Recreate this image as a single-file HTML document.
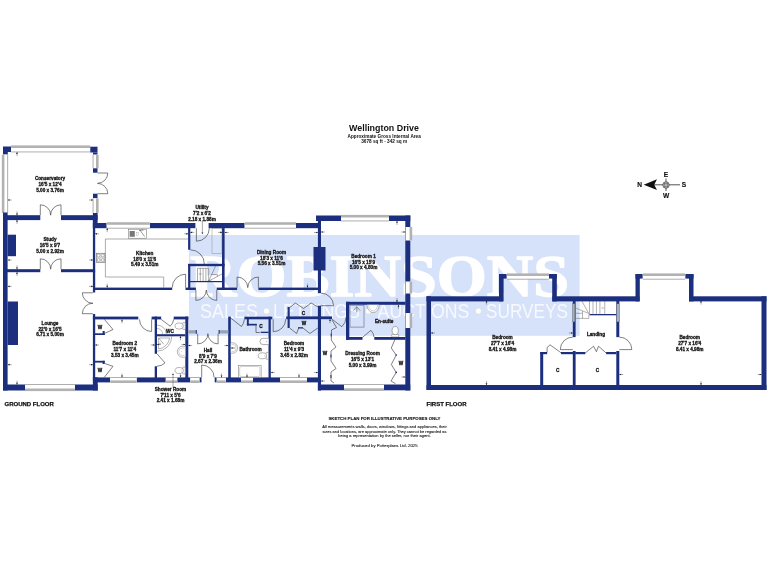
<!DOCTYPE html>
<html><head><meta charset="utf-8"><title>Wellington Drive</title>
<style>html,body{margin:0;padding:0;background:#fff;}body{width:768px;height:576px;overflow:hidden;}svg{display:block;will-change:transform;font-family:"Liberation Sans",sans-serif;}</style>
</head><body>
<svg width="768" height="576" viewBox="0 0 768 576">
<rect width="768" height="576" fill="#fff"/>
<rect x="189" y="235" width="390.6" height="100.8" fill="#d6e1fa"/>
<text x="190" y="295.7" font-family="Liberation Serif, serif" font-weight="bold" font-size="59.6" fill="#fff" stroke="#fff" stroke-width="1.4" stroke-linejoin="round" textLength="379" lengthAdjust="spacingAndGlyphs">ROBINSONS</text>
<text x="200.1" y="317.8" font-size="19.6" fill="#f7f9ff" textLength="57.8" lengthAdjust="spacingAndGlyphs">SALES</text>
<text x="273.1" y="317.8" font-size="19.6" fill="#f7f9ff" textLength="86.8" lengthAdjust="spacingAndGlyphs">LETTINGS</text>
<text x="377.6" y="317.8" font-size="19.6" fill="#f7f9ff" textLength="91.8" lengthAdjust="spacingAndGlyphs">AUCTIONS</text>
<text x="486.1" y="317.8" font-size="19.6" fill="#f7f9ff" textLength="81.8" lengthAdjust="spacingAndGlyphs">SURVEYS</text>
<circle cx="266.5" cy="311" r="2.6" fill="#fffff2"/>
<circle cx="368.5" cy="311" r="2.6" fill="#fffff2"/>
<circle cx="478.4" cy="311" r="2.6" fill="#fffff2"/>
<rect x="3" y="146.5" width="8" height="5.5" fill="#1c2f7e"/>
<rect x="3" y="152" width="4.8" height="2.6" fill="#1c2f7e"/>
<rect x="11" y="146" width="79.3" height="6" fill="#fff"/>
<rect x="11" y="145.4" width="79.3" height="2.6" fill="#b2b2b2"/>
<rect x="11" y="151.6" width="79.3" height="0.7" fill="#8c8c8c"/>
<rect x="90.3" y="146.7" width="7.2" height="5.8" fill="#1c2f7e"/>
<rect x="93" y="152.5" width="4.5" height="2.2" fill="#1c2f7e"/>
<rect x="2.4" y="154.6" width="5.4" height="58.4" fill="#fff"/>
<rect x="1.8" y="154.6" width="2.6" height="58.4" fill="#b2b2b2"/>
<rect x="7.4" y="154.6" width="0.7" height="58.4" fill="#8c8c8c"/>
<rect x="93" y="154.7" width="5" height="13.6" fill="#fff"/>
<rect x="96.0" y="154.7" width="2.6" height="13.6" fill="#b2b2b2"/>
<rect x="92.7" y="154.7" width="0.7" height="13.6" fill="#8c8c8c"/>
<rect x="93" y="168.3" width="4.5" height="4.4" fill="#1c2f7e"/>
<rect x="93" y="193.7" width="4.5" height="4.6" fill="#1c2f7e"/>
<rect x="93" y="198.3" width="5" height="14.7" fill="#fff"/>
<rect x="96.0" y="198.3" width="2.6" height="14.7" fill="#b2b2b2"/>
<rect x="92.7" y="198.3" width="0.7" height="14.7" fill="#8c8c8c"/>
<path d="M97.5 173 L107.8 173 A10.3 10.3 0 0 1 97.5 183.3" stroke="#2e2e2e" stroke-width="0.6" fill="none" />
<path d="M97.5 193.7 L107.8 193.7 A10.3 10.3 0 0 0 97.5 183.4" stroke="#2e2e2e" stroke-width="0.6" fill="none" />
<rect x="3" y="215.2" width="37.3" height="4.9" fill="#1c2f7e"/>
<rect x="61" y="215.2" width="36.6" height="4.9" fill="#1c2f7e"/>
<rect x="92.9" y="213" width="4.7" height="15" fill="#1c2f7e"/>
<path d="M40.3 215.2 L40.3 204.8 A10.4 10.4 0 0 1 50.7 215.2" stroke="#2e2e2e" stroke-width="0.6" fill="none" />
<path d="M61 215.2 L61 204.8 A10.4 10.4 0 0 0 50.6 215.2" stroke="#2e2e2e" stroke-width="0.6" fill="none" />
<rect x="3" y="212.5" width="4.6" height="178.0" fill="#1c2f7e"/>
<rect x="7.6" y="234.7" width="8.4" height="21.5" fill="#1c2f7e"/>
<rect x="3" y="269.2" width="37.3" height="3.0" fill="#1c2f7e"/>
<rect x="61" y="269.2" width="34.1" height="3.0" fill="#1c2f7e"/>
<path d="M40.3 269.2 L40.3 258.8 A10.4 10.4 0 0 1 50.7 269.2" stroke="#2e2e2e" stroke-width="0.6" fill="none" />
<path d="M61 269.2 L61 258.8 A10.4 10.4 0 0 0 50.6 269.2" stroke="#2e2e2e" stroke-width="0.6" fill="none" />
<rect x="92.9" y="220" width="2.3" height="72.5" fill="#1c2f7e"/>
<rect x="92.9" y="314" width="2.3" height="64" fill="#1c2f7e"/>
<rect x="92.9" y="377.4" width="4.8" height="13.1" fill="#1c2f7e"/>
<path d="M92.9 292.8 L82.3 292.8 A10.6 10.6 0 0 0 92.9 303.3" stroke="#2e2e2e" stroke-width="0.6" fill="none" />
<path d="M92.9 313.7 L82.3 313.7 A10.6 10.6 0 0 1 92.9 303.2" stroke="#2e2e2e" stroke-width="0.6" fill="none" />
<rect x="7.6" y="301.5" width="10.4" height="43.5" fill="#1c2f7e"/>
<rect x="3" y="384.5" width="22" height="6.0" fill="#1c2f7e"/>
<rect x="75" y="384.5" width="22.7" height="6.0" fill="#1c2f7e"/>
<rect x="25" y="384.5" width="50" height="6.0" fill="#fff"/>
<rect x="25" y="388.5" width="50" height="2.6" fill="#b2b2b2"/>
<rect x="25" y="384.2" width="50" height="0.7" fill="#8c8c8c"/>
<rect x="92.9" y="223" width="13.8" height="5.2" fill="#1c2f7e"/>
<rect x="149.8" y="223" width="45.6" height="5.2" fill="#1c2f7e"/>
<rect x="208.6" y="223" width="36.1" height="5.2" fill="#1c2f7e"/>
<rect x="296" y="223" width="25" height="5.2" fill="#1c2f7e"/>
<rect x="106.7" y="222.8" width="43.1" height="5.4" fill="#fff"/>
<rect x="106.7" y="222.2" width="43.1" height="2.6" fill="#b2b2b2"/>
<rect x="106.7" y="227.8" width="43.1" height="0.7" fill="#8c8c8c"/>
<rect x="244.7" y="222.8" width="51.3" height="5.4" fill="#fff"/>
<rect x="244.7" y="222.2" width="51.3" height="2.6" fill="#b2b2b2"/>
<rect x="244.7" y="227.8" width="51.3" height="0.7" fill="#8c8c8c"/>
<rect x="95" y="287.6" width="77.2" height="2.4" fill="#1c2f7e"/>
<rect x="185.5" y="287.6" width="10.4" height="2.4" fill="#1c2f7e"/>
<rect x="216.75" y="287.6" width="20.35" height="2.4" fill="#1c2f7e"/>
<rect x="258.4" y="287.6" width="62.6" height="2.4" fill="#1c2f7e"/>
<rect x="188.1" y="228" width="2.2" height="21.75" fill="#1c2f7e"/>
<rect x="188.1" y="264" width="2.2" height="26" fill="#1c2f7e"/>
<rect x="222" y="228" width="2.6" height="62" fill="#1c2f7e"/>
<rect x="188.1" y="263.8" width="36.5" height="2.4" fill="#1c2f7e"/>
<rect x="190" y="281" width="32" height="1.2" fill="#1c2f7e"/>
<rect x="317.9" y="216" width="3.1" height="77.2" fill="#1c2f7e"/>
<rect x="317.9" y="305.7" width="3.1" height="14.3" fill="#1c2f7e"/>
<rect x="313.5" y="247" width="12.0" height="23.5" fill="#1c2f7e"/>
<rect x="316" y="215.5" width="25" height="5.5" fill="#1c2f7e"/>
<rect x="389" y="215.5" width="21.3" height="5.5" fill="#1c2f7e"/>
<rect x="341" y="215.5" width="48" height="5.5" fill="#fff"/>
<rect x="341" y="214.9" width="48" height="2.6" fill="#b2b2b2"/>
<rect x="341" y="220.6" width="48" height="0.7" fill="#8c8c8c"/>
<rect x="405.3" y="215.5" width="5.0" height="175.0" fill="#1c2f7e"/>
<rect x="405.3" y="227" width="6.3" height="13.5" fill="#fff"/>
<rect x="409.6" y="227" width="2.6" height="13.5" fill="#b2b2b2"/>
<rect x="405.0" y="227" width="0.7" height="13.5" fill="#8c8c8c"/>
<rect x="405.3" y="281.5" width="6.3" height="12.0" fill="#fff"/>
<rect x="409.6" y="281.5" width="2.6" height="12.0" fill="#b2b2b2"/>
<rect x="405.0" y="281.5" width="0.7" height="12.0" fill="#8c8c8c"/>
<rect x="405.3" y="313" width="6.3" height="15" fill="#fff"/>
<rect x="409.6" y="313" width="2.6" height="15" fill="#b2b2b2"/>
<rect x="405.0" y="313" width="0.7" height="15" fill="#8c8c8c"/>
<rect x="346" y="301.8" width="59.5" height="3.0" fill="#1c2f7e"/>
<rect x="346" y="301.8" width="3.3" height="38.0" fill="#1c2f7e"/>
<rect x="346" y="337" width="16.5" height="2.8" fill="#1c2f7e"/>
<rect x="374.3" y="337" width="31.2" height="2.8" fill="#1c2f7e"/>
<rect x="317.9" y="316.4" width="3.1" height="74.1" fill="#1c2f7e"/>
<rect x="317.9" y="384.5" width="26.1" height="5.8" fill="#1c2f7e"/>
<rect x="384" y="384.5" width="26.3" height="5.8" fill="#1c2f7e"/>
<rect x="344" y="384.5" width="40" height="5.8" fill="#fff"/>
<rect x="344" y="388.3" width="40" height="2.6" fill="#b2b2b2"/>
<rect x="344" y="384.2" width="40" height="0.7" fill="#8c8c8c"/>
<rect x="92.9" y="316.6" width="45.4" height="2.8" fill="#1c2f7e"/>
<rect x="151.6" y="316.6" width="9.6" height="2.8" fill="#1c2f7e"/>
<rect x="173.7" y="316.6" width="14.6" height="2.8" fill="#1c2f7e"/>
<rect x="154.7" y="316.6" width="2.3" height="37.2" fill="#1c2f7e"/>
<rect x="154.7" y="366.3" width="2.3" height="11.7" fill="#1c2f7e"/>
<rect x="185.3" y="316.6" width="3.0" height="61.4" fill="#1c2f7e"/>
<rect x="157" y="334.2" width="28.3" height="2.1" fill="#1c2f7e"/>
<rect x="228.2" y="316.6" width="2.6" height="61.4" fill="#1c2f7e"/>
<rect x="244.4" y="316.7" width="27.9" height="2.6" fill="#1c2f7e"/>
<rect x="268.5" y="316.7" width="2.3" height="61.3" fill="#1c2f7e"/>
<rect x="286.2" y="316.4" width="45.8" height="2.8" fill="#1c2f7e"/>
<rect x="246.9" y="319" width="1.9" height="6.5" fill="#1c2f7e"/>
<rect x="246.9" y="323.8" width="10.0" height="1.7" fill="#1c2f7e"/>
<rect x="260.7" y="331.7" width="7.9" height="1.3" fill="#1c2f7e"/>
<path d="M256 325.5 L256 332.5 L259.8 332.5" stroke="#2e2e2e" stroke-width="0.6" fill="none" />
<rect x="287.6" y="307" width="2.1" height="21" fill="#1c2f7e"/>
<rect x="298" y="327.2" width="5" height="1.3" fill="#1c2f7e"/>
<path d="M289.7 307.6 L295.3 303 L303.6 308.5 L311.2 303 L317.9 307" stroke="#2e2e2e" stroke-width="0.6" fill="none" />
<path d="M289.7 328 L296.6 333.5 L298.7 328 M303 328 L309.8 333.5 L317.9 328" stroke="#2e2e2e" stroke-width="0.6" fill="none" />
<rect x="92.9" y="377.4" width="17.3" height="5.0" fill="#1c2f7e"/>
<rect x="136.6" y="377.4" width="29.2" height="5.0" fill="#1c2f7e"/>
<rect x="177.2" y="377.4" width="13.2" height="5.0" fill="#1c2f7e"/>
<rect x="199.4" y="377.4" width="2.1" height="5.0" fill="#1c2f7e"/>
<rect x="214.7" y="377.4" width="2.05" height="5.0" fill="#1c2f7e"/>
<rect x="225.8" y="377.4" width="15.2" height="5.0" fill="#1c2f7e"/>
<rect x="253" y="377.4" width="27" height="5.0" fill="#1c2f7e"/>
<rect x="307" y="377.4" width="14" height="5.0" fill="#1c2f7e"/>
<rect x="110.2" y="377.4" width="26.4" height="5.0" fill="#fff"/>
<rect x="110.2" y="380.4" width="26.4" height="2.6" fill="#b2b2b2"/>
<rect x="110.2" y="377.1" width="26.4" height="0.7" fill="#8c8c8c"/>
<rect x="165.8" y="377.4" width="11.4" height="5.0" fill="#fff"/>
<rect x="165.8" y="380.4" width="11.4" height="2.6" fill="#b2b2b2"/>
<rect x="165.8" y="377.1" width="11.4" height="0.7" fill="#8c8c8c"/>
<rect x="190.4" y="377.4" width="9.0" height="5.0" fill="#fff"/>
<rect x="190.4" y="380.4" width="9.0" height="2.6" fill="#b2b2b2"/>
<rect x="190.4" y="377.1" width="9.0" height="0.7" fill="#8c8c8c"/>
<rect x="216.75" y="377.4" width="9.05" height="5.0" fill="#fff"/>
<rect x="216.75" y="380.4" width="9.05" height="2.6" fill="#b2b2b2"/>
<rect x="216.75" y="377.1" width="9.05" height="0.7" fill="#8c8c8c"/>
<rect x="241" y="377.4" width="12" height="5.0" fill="#fff"/>
<rect x="241" y="380.4" width="12" height="2.6" fill="#b2b2b2"/>
<rect x="241" y="377.1" width="12" height="0.7" fill="#8c8c8c"/>
<rect x="280" y="377.4" width="27" height="5.0" fill="#fff"/>
<rect x="280" y="380.4" width="27" height="2.6" fill="#b2b2b2"/>
<rect x="280" y="377.1" width="27" height="0.7" fill="#8c8c8c"/>
<rect x="188.3" y="330.2" width="8.3" height="3.3" fill="#9aa3b5"/><rect x="218.8" y="330.2" width="9.5" height="3.3" fill="#9aa3b5"/>
<rect x="195.8" y="330" width="1" height="3.8" fill="#1c2f7e"/><rect x="218.6" y="330" width="1" height="3.8" fill="#1c2f7e"/>
<path d="M197.7 333.7 L197.7 343.9 A10.2 10.2 0 0 0 207.9 333.7" stroke="#2e2e2e" stroke-width="0.6" fill="none" />
<path d="M218.1 333.7 L218.1 343.9 A10.2 10.2 0 0 1 207.9 333.7" stroke="#2e2e2e" stroke-width="0.6" fill="none" />
<path d="M201.7 377.4 L201.7 365 A12.4 12.4 0 0 1 214.1 377.4" stroke="#2e2e2e" stroke-width="0.6" fill="none" />
<path d="M185.6 287.6 L185.6 274.2 A13.4 13.4 0 0 0 172.2 287.6" stroke="#2e2e2e" stroke-width="0.6" fill="none" />
<path d="M190.3 249.8 A14 14 0 0 1 204.3 264" stroke="#2e2e2e" stroke-width="0.6" fill="none" />
<path d="M196.4 228.3 L196.4 241.2 A12.9 12.9 0 0 0 209.3 228.3" stroke="#2e2e2e" stroke-width="0.6" fill="none" />
<path d="M195.9 290 L195.9 300.4 A10.4 10.4 0 0 0 206.3 290" stroke="#2e2e2e" stroke-width="0.6" fill="none" />
<path d="M216.75 290 L216.75 300.4 A10.4 10.4 0 0 1 206.35 290" stroke="#2e2e2e" stroke-width="0.6" fill="none" />
<path d="M237.1 287.6 L237.1 277 A10.6 10.6 0 0 1 247.7 287.6" stroke="#2e2e2e" stroke-width="0.6" fill="none" />
<path d="M258.4 287.6 L258.4 277 A10.6 10.6 0 0 0 247.8 287.6" stroke="#2e2e2e" stroke-width="0.6" fill="none" />
<path d="M321 305.7 L333.5 305.7 A12.5 12.5 0 0 0 321 293.2" stroke="#2e2e2e" stroke-width="0.6" fill="none" />
<path d="M151.6 319.4 L151.6 331.5 A12.1 12.1 0 0 1 139.5 319.4" stroke="#2e2e2e" stroke-width="0.6" fill="none" />
<path d="M161.2 319.4 L170.2 326.2 A11.28 11.28 0 0 0 173.7 319.4" stroke="#2e2e2e" stroke-width="0.6" fill="none" />
<path d="M157 353.8 L165 362.9 A12.12 12.12 0 0 1 157 366.3" stroke="#2e2e2e" stroke-width="0.6" fill="none" />
<path d="M230.6 318 L241.5 326.5 A13.82 13.82 0 0 0 244.4 319.3" stroke="#2e2e2e" stroke-width="0.6" fill="none" />
<path d="M273.2 319.2 L273.2 331.7 A12.5 12.5 0 0 0 285.7 319.2" stroke="#2e2e2e" stroke-width="0.6" fill="none" />
<path d="M332 319.2 L341.8 326.7 A12.34 12.34 0 0 0 346 317.5" stroke="#2e2e2e" stroke-width="0.6" fill="none" />
<path d="M362.5 337.4 L370.9 330.3 A11.0 11.0 0 0 1 374 337" stroke="#2e2e2e" stroke-width="0.6" fill="none" />
<rect x="95" y="333.3" width="9.7" height="1.7" fill="#1c2f7e"/>
<rect x="102.6" y="331" width="2.1" height="4" fill="#1c2f7e"/>
<path d="M104.4 319.4 L113 329.5 L104.7 333.3" stroke="#2e2e2e" stroke-width="0.6" fill="none" />
<rect x="95" y="360.8" width="9.7" height="1.8" fill="#1c2f7e"/>
<rect x="102.6" y="360.8" width="2.1" height="3.2" fill="#1c2f7e"/>
<path d="M104.7 363.5 L113 366.3 L104.4 377.2" stroke="#2e2e2e" stroke-width="0.6" fill="none" />
<path d="M332 320 L336.5 327.5 L331.5 330 L331.3 340 L336 347 L331 351 L331 361 L336 368.5 L331 372 L331 381 L334 383" stroke="#2e2e2e" stroke-width="0.6" fill="none" />
<path d="M395 339.4 L391.3 348 L396.2 355 L391.3 364.5 L396.2 372.4 L391 381 L395.5 383.7" stroke="#2e2e2e" stroke-width="0.6" fill="none" />
<rect x="330.7" y="333.5" width="1" height="3" fill="#1c2f7e"/>
<rect x="330.5" y="354.5" width="1" height="3" fill="#1c2f7e"/>
<rect x="330.5" y="375.0" width="1" height="3" fill="#1c2f7e"/>
<circle cx="396.2" cy="355" r="0.8" fill="#1c2f7e"/>
<circle cx="396.2" cy="372.4" r="0.8" fill="#1c2f7e"/>
<path d="M188.1 239 L105.4 239 L105.4 277 L163.7 277 L163.7 287.6" stroke="#5a5a5a" stroke-width="0.5" fill="none" />
<rect x="128.4" y="229.2" width="18" height="9" fill="#fff" stroke="#666" stroke-width="0.5"/>
<rect x="129.6" y="231" width="5.2" height="5.8" fill="#777"/>
<rect x="136.4" y="232.8" width="2.2" height="2.4" fill="#fff" stroke="#888" stroke-width="0.3"/>
<path d="M140 230.2 L144.5 236.5 M139 230.4 L143.5 230 " stroke="#2e2e2e" stroke-width="0.5" fill="none" />
<rect x="96.3" y="253.2" width="8.7" height="9.3" fill="#ddd" stroke="#5a5a5a" stroke-width="0.5"/>
<circle cx="98.6" cy="255.6" r="1.4" fill="#fff" stroke="#5a5a5a" stroke-width="0.35"/>
<circle cx="102.7" cy="255.6" r="1.4" fill="#fff" stroke="#5a5a5a" stroke-width="0.35"/>
<circle cx="98.6" cy="260" r="1.4" fill="#fff" stroke="#5a5a5a" stroke-width="0.35"/>
<circle cx="102.7" cy="260" r="1.4" fill="#fff" stroke="#5a5a5a" stroke-width="0.35"/>
<rect x="212" y="228.4" width="9.9" height="25" fill="none" stroke="#888" stroke-width="0.45"/>
<path d="M202.4 220.5 L202.4 233" stroke="#2e2e2e" stroke-width="0.4" fill="none" />
<path d="M202.4 234.3 l-0.9 -1.8 l1.8 0 z" fill="#222"/>
<path d="M197.5 268.3 L197.5 281" stroke="#444" stroke-width="0.45" fill="none" />
<path d="M200.3 268.3 L200.3 281" stroke="#444" stroke-width="0.45" fill="none" />
<path d="M203.1 268.3 L203.1 281" stroke="#444" stroke-width="0.45" fill="none" />
<path d="M205.9 268.3 L205.9 281" stroke="#444" stroke-width="0.45" fill="none" />
<path d="M208.7 268.3 L208.7 281" stroke="#444" stroke-width="0.45" fill="none" />
<path d="M197.5 268.3 L208.7 268.3 M208.7 281 L222 274 M208.7 281 L215.5 266.2 M211.5 274.6 L217.4 274.6 L217.4 276.4" stroke="#444" stroke-width="0.45" fill="none" />
<path d="M199 274 L201.5 274" stroke="#2e2e2e" stroke-width="0.4" fill="none" />
<rect x="182.70000000000002" y="322.6" width="2.6" height="6.8" rx="0.6" fill="#fff" stroke="#5a5a5a" stroke-width="0.45"/>
<ellipse cx="179.10000000000002" cy="326" rx="4.1" ry="3" fill="#fff" stroke="#5a5a5a" stroke-width="0.45"/>
<circle cx="181.3" cy="326" r="0.35" fill="#555"/>
<rect x="182.70000000000002" y="367.1" width="2.6" height="6.8" rx="0.6" fill="#fff" stroke="#5a5a5a" stroke-width="0.45"/>
<ellipse cx="179.10000000000002" cy="370.5" rx="4.1" ry="3" fill="#fff" stroke="#5a5a5a" stroke-width="0.45"/>
<circle cx="181.3" cy="370.5" r="0.35" fill="#555"/>
<path d="M157 325 A9.2 9.2 0 0 1 166.2 334.2" stroke="#5a5a5a" stroke-width="0.45" fill="none" />
<path d="M157 328.5 A5.7 5.7 0 0 1 162.7 334.2" stroke="#5a5a5a" stroke-width="0.4" fill="none" />
<path d="M171.8 336.3 A14.8 14.8 0 0 1 157 351.2 M169.6 338 A12.6 12.6 0 0 1 158.6 349 M158.6 338 L169.6 338 M158.6 338 L158.6 349 M158.6 338 L164 344.4" stroke="#5a5a5a" stroke-width="0.45" fill="none" />
<circle cx="160" cy="343.6" r="0.8" fill="none" stroke="#5a5a5a" stroke-width="0.3"/>
<path d="M185.3 346.25 L182.3 346.25 A5 5.5 0 0 0 182.3 357.25 L185.3 357.25" stroke="#5a5a5a" stroke-width="0.45" fill="#fff" />
<path d="M184.5 347.95 L182.3 347.95 A3.6 3.8 0 0 0 182.3 355.55 L184.5 355.55" stroke="#808080" stroke-width="0.35" fill="none" />
<circle cx="181.5" cy="351.75" r="0.35" fill="#555"/>
<path d="M230.8 342.8 L233.0 342.8 A4.6 5.2 0 0 1 233.0 353.2 L230.8 353.2" stroke="#5a5a5a" stroke-width="0.45" fill="#fff" />
<path d="M231.60000000000002 344.4 L233.0 344.4 A3.2 3.6 0 0 1 233.0 351.6 L231.60000000000002 351.6" stroke="#808080" stroke-width="0.35" fill="none" />
<path d="M232.3 348 L234.8 348" stroke="#2e2e2e" stroke-width="0.3" fill="none" />
<path d="M268.5 338.3 L263.2 338.3 A3.2 3.15 0 0 0 263.2 344.6 L268.5 344.6" stroke="#5a5a5a" stroke-width="0.5" fill="#fff" />
<circle cx="266.3" cy="341.4" r="0.35" fill="#444"/>
<rect x="265.9" y="352.40000000000003" width="2.6" height="6.8" rx="0.6" fill="#fff" stroke="#5a5a5a" stroke-width="0.45"/>
<ellipse cx="262.3" cy="355.8" rx="4.1" ry="3" fill="#fff" stroke="#5a5a5a" stroke-width="0.45"/>
<circle cx="264.5" cy="355.8" r="0.35" fill="#555"/>
<rect x="238.5" y="365.3" width="22.6" height="12.1" fill="#fff" stroke="#5a5a5a" stroke-width="0.45"/>
<rect x="239.7" y="366.5" width="20.2" height="10" rx="1.5" fill="none" stroke="#808080" stroke-width="0.35"/>
<rect x="350" y="305.3" width="14" height="21.8" fill="none" stroke="#7d8698" stroke-width="0.8"/>
<path d="M356.8 312.3 L356.8 306.6 M353.4 310.6 L356.8 306.6 L360.2 310.6" stroke="#2e2e2e" stroke-width="0.45" fill="none" />
<path d="M367 304.7 A6.1 7.8 0 0 0 379.2 304.7" stroke="#5a5a5a" stroke-width="0.45" fill="#fff" />
<path d="M368.6 304.9 A4.5 5.8 0 0 0 377.6 304.9" stroke="#808080" stroke-width="0.35" fill="none" />
<rect x="391.7" y="334.3" width="7" height="2.7" rx="0.6" fill="#fff" stroke="#5a5a5a" stroke-width="0.45"/>
<ellipse cx="395.2" cy="330.6" rx="3.1" ry="4.1" fill="#fff" stroke="#5a5a5a" stroke-width="0.45"/>
<rect x="426.5" y="296.3" width="4.5" height="93.7" fill="#1c2f7e"/>
<rect x="426.5" y="296.3" width="76.5" height="5.1" fill="#1c2f7e"/>
<rect x="499" y="274" width="4.6" height="27.4" fill="#1c2f7e"/>
<rect x="499" y="274" width="7.8" height="4.6" fill="#1c2f7e"/>
<rect x="549" y="274" width="7.8" height="4.6" fill="#1c2f7e"/>
<rect x="552.2" y="274" width="4.6" height="27.4" fill="#1c2f7e"/>
<rect x="506.8" y="274" width="42.2" height="5.2" fill="#fff"/>
<rect x="506.8" y="273.4" width="42.2" height="2.6" fill="#b2b2b2"/>
<rect x="506.8" y="278.8" width="42.2" height="0.7" fill="#8c8c8c"/>
<rect x="552.4" y="296.3" width="87.1" height="5.1" fill="#1c2f7e"/>
<rect x="635.5" y="274" width="4.3" height="27.4" fill="#1c2f7e"/>
<rect x="635.5" y="274" width="7.3" height="4.6" fill="#1c2f7e"/>
<rect x="685.2" y="274" width="8.3" height="4.6" fill="#1c2f7e"/>
<rect x="689" y="274" width="4.5" height="27.4" fill="#1c2f7e"/>
<rect x="642.8" y="274" width="42.4" height="5.2" fill="#fff"/>
<rect x="642.8" y="273.4" width="42.4" height="2.6" fill="#b2b2b2"/>
<rect x="642.8" y="278.8" width="42.4" height="0.7" fill="#8c8c8c"/>
<rect x="689" y="296.3" width="77.5" height="5.1" fill="#1c2f7e"/>
<rect x="761.5" y="296.3" width="5.0" height="93.7" fill="#1c2f7e"/>
<rect x="426.5" y="385" width="340.0" height="5" fill="#1c2f7e"/>
<rect x="572.8" y="300.5" width="2.8" height="36.6" fill="#1c2f7e"/>
<rect x="572.8" y="351" width="2.8" height="34" fill="#1c2f7e"/>
<rect x="540.2" y="352" width="3.0" height="33" fill="#1c2f7e"/>
<rect x="540.2" y="352" width="6.9" height="2.2" fill="#1c2f7e"/>
<rect x="561" y="352" width="14.6" height="2.2" fill="#1c2f7e"/>
<rect x="616.3" y="300.5" width="3.0" height="36.6" fill="#1c2f7e"/>
<rect x="616.3" y="351" width="3.0" height="34" fill="#1c2f7e"/>
<rect x="575.6" y="352" width="9.7" height="2.2" fill="#1c2f7e"/>
<rect x="606.1" y="352" width="10.2" height="2.2" fill="#1c2f7e"/>
<rect x="572.3" y="303.8" width="2.6" height="18.1" fill="#a9afbd" stroke="#5a5a5a" stroke-width="0.3"/>
<rect x="616.6" y="303.8" width="2.6" height="18.1" fill="#a9afbd" stroke="#5a5a5a" stroke-width="0.3"/>
<path d="M572.8 349.6 L560.3 349.6 A12.5 12.5 0 0 1 572.8 337.1" stroke="#2e2e2e" stroke-width="0.6" fill="none" />
<path d="M619.3 349.6 L631.8 349.6 A12.5 12.5 0 0 0 619.3 337.1" stroke="#2e2e2e" stroke-width="0.6" fill="none" />
<path d="M547.1 352.5 L547.1 347.5 L550 344.8 L559.6 351.7 L561 353" stroke="#2e2e2e" stroke-width="0.6" fill="none" />
<path d="M585.3 353 L593.6 346.2 L596.4 351.7 L598.5 346.2 L606.1 353" stroke="#2e2e2e" stroke-width="0.6" fill="none" />
<rect x="589.5" y="314" width="26.8" height="1.3" fill="#1c2f7e"/>
<path d="M589.5 301 L589.5 314.5" stroke="#555" stroke-width="0.45" fill="none" />
<path d="M593 301 L593 314.5" stroke="#555" stroke-width="0.45" fill="none" />
<path d="M596.4 301 L596.4 314.5" stroke="#555" stroke-width="0.45" fill="none" />
<path d="M599.9 301 L599.9 314.5" stroke="#555" stroke-width="0.45" fill="none" />
<path d="M604.75 301 L604.75 314.5" stroke="#555" stroke-width="0.45" fill="none" />
<path d="M575.6 318.4 L588.8 318.4 L588.8 314.5 M588.8 313.5 L575.6 308 M588.8 313.5 L581.8 301 M582.5 318.4 L582.5 311 M575.6 313.3 L582.5 313.3" stroke="#555" stroke-width="0.45" fill="none" />
<path d="M601.5 308 L603.8 308" stroke="#2e2e2e" stroke-width="0.4" fill="none" />
<path d="M17 156.10000000000002 L17 152.3" stroke="#2e2e2e" stroke-width="0.4" fill="none" />
<path d="M17 152.0 l-0.85 2.0 l1.7 0 z" fill="#222"/>
<path d="M17 211.39999999999998 L17 215.2" stroke="#2e2e2e" stroke-width="0.4" fill="none" />
<path d="M17 215.5 l-0.85 -2.0 l1.7 0 z" fill="#222"/>
<path d="M11.7 200 L7.9 200" stroke="#2e2e2e" stroke-width="0.4" fill="none" />
<path d="M7.6000000000000005 200 l2.0 -0.85 l0 1.7 z" fill="#222"/>
<path d="M89.0 200 L92.8 200" stroke="#2e2e2e" stroke-width="0.4" fill="none" />
<path d="M93.1 200 l-2.0 -0.85 l0 1.7 z" fill="#222"/>
<path d="M17 223.9 L17 220.1" stroke="#2e2e2e" stroke-width="0.4" fill="none" />
<path d="M17 219.79999999999998 l-0.85 2.0 l1.7 0 z" fill="#222"/>
<path d="M17 265.4 L17 269.2" stroke="#2e2e2e" stroke-width="0.4" fill="none" />
<path d="M17 269.5 l-0.85 -2.0 l1.7 0 z" fill="#222"/>
<path d="M11.7 260 L7.9 260" stroke="#2e2e2e" stroke-width="0.4" fill="none" />
<path d="M7.6000000000000005 260 l2.0 -0.85 l0 1.7 z" fill="#222"/>
<path d="M89.0 260 L92.8 260" stroke="#2e2e2e" stroke-width="0.4" fill="none" />
<path d="M93.1 260 l-2.0 -0.85 l0 1.7 z" fill="#222"/>
<path d="M17 276.0 L17 272.2" stroke="#2e2e2e" stroke-width="0.4" fill="none" />
<path d="M17 271.9 l-0.85 2.0 l1.7 0 z" fill="#222"/>
<path d="M17 380.7 L17 384.5" stroke="#2e2e2e" stroke-width="0.4" fill="none" />
<path d="M17 384.8 l-0.85 -2.0 l1.7 0 z" fill="#222"/>
<path d="M11.7 364.7 L7.9 364.7" stroke="#2e2e2e" stroke-width="0.4" fill="none" />
<path d="M7.6000000000000005 364.7 l2.0 -0.85 l0 1.7 z" fill="#222"/>
<path d="M89.0 364.7 L92.8 364.7" stroke="#2e2e2e" stroke-width="0.4" fill="none" />
<path d="M93.1 364.7 l-2.0 -0.85 l0 1.7 z" fill="#222"/>
<path d="M11.7 286.4 L7.9 286.4" stroke="#2e2e2e" stroke-width="0.4" fill="none" />
<path d="M7.6000000000000005 286.4 l2.0 -0.85 l0 1.7 z" fill="#222"/>
<path d="M89.0 286.4 L92.8 286.4" stroke="#2e2e2e" stroke-width="0.4" fill="none" />
<path d="M93.1 286.4 l-2.0 -0.85 l0 1.7 z" fill="#222"/>
<path d="M107.2 232.10000000000002 L107.2 228.3" stroke="#2e2e2e" stroke-width="0.4" fill="none" />
<path d="M107.2 228.0 l-0.85 2.0 l1.7 0 z" fill="#222"/>
<path d="M107.2 283.7 L107.2 287.5" stroke="#2e2e2e" stroke-width="0.4" fill="none" />
<path d="M107.2 287.8 l-0.85 -2.0 l1.7 0 z" fill="#222"/>
<path d="M99.1 233.8 L95.3 233.8" stroke="#2e2e2e" stroke-width="0.4" fill="none" />
<path d="M95.0 233.8 l2.0 -0.85 l0 1.7 z" fill="#222"/>
<path d="M184.2 233.8 L188 233.8" stroke="#2e2e2e" stroke-width="0.4" fill="none" />
<path d="M188.3 233.8 l-2.0 -0.85 l0 1.7 z" fill="#222"/>
<path d="M194.20000000000002 232.4 L190.4 232.4" stroke="#2e2e2e" stroke-width="0.4" fill="none" />
<path d="M190.1 232.4 l2.0 -0.85 l0 1.7 z" fill="#222"/>
<path d="M218.1 232.4 L221.9 232.4" stroke="#2e2e2e" stroke-width="0.4" fill="none" />
<path d="M222.20000000000002 232.4 l-2.0 -0.85 l0 1.7 z" fill="#222"/>
<path d="M228.60000000000002 232.5 L224.8 232.5" stroke="#2e2e2e" stroke-width="0.4" fill="none" />
<path d="M224.5 232.5 l2.0 -0.85 l0 1.7 z" fill="#222"/>
<path d="M314.0 232.5 L317.8 232.5" stroke="#2e2e2e" stroke-width="0.4" fill="none" />
<path d="M318.1 232.5 l-2.0 -0.85 l0 1.7 z" fill="#222"/>
<path d="M307.5 283.7 L307.5 287.5" stroke="#2e2e2e" stroke-width="0.4" fill="none" />
<path d="M307.5 287.8 l-0.85 -2.0 l1.7 0 z" fill="#222"/>
<path d="M324.90000000000003 232 L321.1 232" stroke="#2e2e2e" stroke-width="0.4" fill="none" />
<path d="M320.8 232 l2.0 -0.85 l0 1.7 z" fill="#222"/>
<path d="M401.4 232 L405.2 232" stroke="#2e2e2e" stroke-width="0.4" fill="none" />
<path d="M405.5 232 l-2.0 -0.85 l0 1.7 z" fill="#222"/>
<path d="M397 224.9 L397 221.1" stroke="#2e2e2e" stroke-width="0.4" fill="none" />
<path d="M397 220.79999999999998 l-0.85 2.0 l1.7 0 z" fill="#222"/>
<path d="M397 298.09999999999997 L397 301.9" stroke="#2e2e2e" stroke-width="0.4" fill="none" />
<path d="M397 302.2 l-0.85 -2.0 l1.7 0 z" fill="#222"/>
<path d="M122 323.3 L122 319.5" stroke="#2e2e2e" stroke-width="0.4" fill="none" />
<path d="M122 319.2 l-0.85 2.0 l1.7 0 z" fill="#222"/>
<path d="M122 373.5 L122 377.3" stroke="#2e2e2e" stroke-width="0.4" fill="none" />
<path d="M122 377.6 l-0.85 -2.0 l1.7 0 z" fill="#222"/>
<path d="M99.1 345 L95.3 345" stroke="#2e2e2e" stroke-width="0.4" fill="none" />
<path d="M95.0 345 l2.0 -0.85 l0 1.7 z" fill="#222"/>
<path d="M150.79999999999998 345 L154.6 345" stroke="#2e2e2e" stroke-width="0.4" fill="none" />
<path d="M154.9 345 l-2.0 -0.85 l0 1.7 z" fill="#222"/>
<path d="M160.9 344.5 L157.1 344.5" stroke="#2e2e2e" stroke-width="0.4" fill="none" />
<path d="M156.79999999999998 344.5 l2.0 -0.85 l0 1.7 z" fill="#222"/>
<path d="M181.39999999999998 344.5 L185.2 344.5" stroke="#2e2e2e" stroke-width="0.4" fill="none" />
<path d="M185.5 344.5 l-2.0 -0.85 l0 1.7 z" fill="#222"/>
<path d="M180.5 340.2 L180.5 336.4" stroke="#2e2e2e" stroke-width="0.4" fill="none" />
<path d="M180.5 336.09999999999997 l-0.85 2.0 l1.7 0 z" fill="#222"/>
<path d="M180.5 373.5 L180.5 377.3" stroke="#2e2e2e" stroke-width="0.4" fill="none" />
<path d="M180.5 377.6 l-0.85 -2.0 l1.7 0 z" fill="#222"/>
<path d="M192.20000000000002 345.5 L188.4 345.5" stroke="#2e2e2e" stroke-width="0.4" fill="none" />
<path d="M188.1 345.5 l2.0 -0.85 l0 1.7 z" fill="#222"/>
<path d="M224.29999999999998 345.5 L228.1 345.5" stroke="#2e2e2e" stroke-width="0.4" fill="none" />
<path d="M228.4 345.5 l-2.0 -0.85 l0 1.7 z" fill="#222"/>
<path d="M221.5 373.5 L221.5 377.3" stroke="#2e2e2e" stroke-width="0.4" fill="none" />
<path d="M221.5 377.6 l-0.85 -2.0 l1.7 0 z" fill="#222"/>
<path d="M234.8 348 L231 348" stroke="#2e2e2e" stroke-width="0.4" fill="none" />
<path d="M230.7 348 l2.0 -0.85 l0 1.7 z" fill="#222"/>
<path d="M247 373.5 L247 377.3" stroke="#2e2e2e" stroke-width="0.4" fill="none" />
<path d="M247 377.6 l-0.85 -2.0 l1.7 0 z" fill="#222"/>
<path d="M274.8 372.5 L271 372.5" stroke="#2e2e2e" stroke-width="0.4" fill="none" />
<path d="M270.7 372.5 l2.0 -0.85 l0 1.7 z" fill="#222"/>
<path d="M314.0 372.5 L317.8 372.5" stroke="#2e2e2e" stroke-width="0.4" fill="none" />
<path d="M318.1 372.5 l-2.0 -0.85 l0 1.7 z" fill="#222"/>
<path d="M299 373.5 L299 377.3" stroke="#2e2e2e" stroke-width="0.4" fill="none" />
<path d="M299 377.6 l-0.85 -2.0 l1.7 0 z" fill="#222"/>
<path d="M324.90000000000003 381 L321.1 381" stroke="#2e2e2e" stroke-width="0.4" fill="none" />
<path d="M320.8 381 l2.0 -0.85 l0 1.7 z" fill="#222"/>
<path d="M401.4 377 L405.2 377" stroke="#2e2e2e" stroke-width="0.4" fill="none" />
<path d="M405.5 377 l-2.0 -0.85 l0 1.7 z" fill="#222"/>
<path d="M330 323.2 L330 319.4" stroke="#2e2e2e" stroke-width="0.4" fill="none" />
<path d="M330 319.09999999999997 l-0.85 2.0 l1.7 0 z" fill="#222"/>
<path d="M398.5 308.8 L398.5 305" stroke="#2e2e2e" stroke-width="0.4" fill="none" />
<path d="M398.5 304.7 l-0.85 2.0 l1.7 0 z" fill="#222"/>
<path d="M434.90000000000003 333 L431.1 333" stroke="#2e2e2e" stroke-width="0.4" fill="none" />
<path d="M430.8 333 l2.0 -0.85 l0 1.7 z" fill="#222"/>
<path d="M568.9000000000001 333 L572.7 333" stroke="#2e2e2e" stroke-width="0.4" fill="none" />
<path d="M573.0 333 l-2.0 -0.85 l0 1.7 z" fill="#222"/>
<path d="M486.5 304.6 L486.5 300.8" stroke="#2e2e2e" stroke-width="0.4" fill="none" />
<path d="M486.5 300.5 l-0.85 2.0 l1.7 0 z" fill="#222"/>
<path d="M486.5 381.09999999999997 L486.5 384.9" stroke="#2e2e2e" stroke-width="0.4" fill="none" />
<path d="M486.5 385.2 l-0.85 -2.0 l1.7 0 z" fill="#222"/>
<path d="M623.1999999999999 374.5 L619.4 374.5" stroke="#2e2e2e" stroke-width="0.4" fill="none" />
<path d="M619.1 374.5 l2.0 -0.85 l0 1.7 z" fill="#222"/>
<path d="M757.6 374.5 L761.4 374.5" stroke="#2e2e2e" stroke-width="0.4" fill="none" />
<path d="M761.6999999999999 374.5 l-2.0 -0.85 l0 1.7 z" fill="#222"/>
<path d="M701 304.6 L701 300.8" stroke="#2e2e2e" stroke-width="0.4" fill="none" />
<path d="M701 300.5 l-0.85 2.0 l1.7 0 z" fill="#222"/>
<path d="M701 381.09999999999997 L701 384.9" stroke="#2e2e2e" stroke-width="0.4" fill="none" />
<path d="M701 385.2 l-0.85 -2.0 l1.7 0 z" fill="#222"/>
<text x="50" y="180.3" font-size="4.7" font-weight="bold" text-anchor="middle" fill="#111" stroke="#111" stroke-width="0.28">Conservatory</text>
<text x="50" y="186.1" font-size="4.7" font-weight="bold" text-anchor="middle" fill="#111" stroke="#111" stroke-width="0.28">16'5 x 12'4</text>
<text x="50" y="191.9" font-size="4.7" font-weight="bold" text-anchor="middle" fill="#111" stroke="#111" stroke-width="0.28">5.00 x 3.76m</text>
<text x="50" y="241.3" font-size="4.7" font-weight="bold" text-anchor="middle" fill="#111" stroke="#111" stroke-width="0.28">Study</text>
<text x="50" y="247.1" font-size="4.7" font-weight="bold" text-anchor="middle" fill="#111" stroke="#111" stroke-width="0.28">16'5 x 9'7</text>
<text x="50" y="252.9" font-size="4.7" font-weight="bold" text-anchor="middle" fill="#111" stroke="#111" stroke-width="0.28">5.00 x 2.92m</text>
<text x="144.7" y="254.7" font-size="4.7" font-weight="bold" text-anchor="middle" fill="#111" stroke="#111" stroke-width="0.28">Kitchen</text>
<text x="144.7" y="260.5" font-size="4.7" font-weight="bold" text-anchor="middle" fill="#111" stroke="#111" stroke-width="0.28">18'0 x 11'6</text>
<text x="144.7" y="266.3" font-size="4.7" font-weight="bold" text-anchor="middle" fill="#111" stroke="#111" stroke-width="0.28">5.49 x 3.51m</text>
<text x="50" y="324.7" font-size="4.7" font-weight="bold" text-anchor="middle" fill="#111" stroke="#111" stroke-width="0.28">Lounge</text>
<text x="50" y="330.5" font-size="4.7" font-weight="bold" text-anchor="middle" fill="#111" stroke="#111" stroke-width="0.28">22'0 x 16'5</text>
<text x="50" y="336.3" font-size="4.7" font-weight="bold" text-anchor="middle" fill="#111" stroke="#111" stroke-width="0.28">6.71 x 5.00m</text>
<text x="124.8" y="345.3" font-size="4.7" font-weight="bold" text-anchor="middle" fill="#111" stroke="#111" stroke-width="0.28">Bedroom 2</text>
<text x="124.8" y="351.1" font-size="4.7" font-weight="bold" text-anchor="middle" fill="#111" stroke="#111" stroke-width="0.28">11'7 x 11'4</text>
<text x="124.8" y="356.9" font-size="4.7" font-weight="bold" text-anchor="middle" fill="#111" stroke="#111" stroke-width="0.28">3.53 x 3.45m</text>
<text x="100" y="329.3" font-size="4.7" font-weight="bold" text-anchor="middle" fill="#111" stroke="#111" stroke-width="0.28">W</text>
<text x="100" y="372.3" font-size="4.7" font-weight="bold" text-anchor="middle" fill="#111" stroke="#111" stroke-width="0.28">W</text>
<text x="170" y="333.1" font-size="4.7" font-weight="bold" text-anchor="middle" fill="#111" stroke="#111" stroke-width="0.28">WC</text>
<text x="170.5" y="390.7" font-size="4.7" font-weight="bold" text-anchor="middle" fill="#111" stroke="#111" stroke-width="0.28">Shower Room</text>
<text x="170.5" y="396.5" font-size="4.7" font-weight="bold" text-anchor="middle" fill="#111" stroke="#111" stroke-width="0.28">7'11 x 5'6</text>
<text x="170.5" y="402.3" font-size="4.7" font-weight="bold" text-anchor="middle" fill="#111" stroke="#111" stroke-width="0.28">2.41 x 1.68m</text>
<text x="202" y="209.3" font-size="4.7" font-weight="bold" text-anchor="middle" fill="#111" stroke="#111" stroke-width="0.28">Utility</text>
<text x="202" y="215.1" font-size="4.7" font-weight="bold" text-anchor="middle" fill="#111" stroke="#111" stroke-width="0.28">7'2 x 6'2</text>
<text x="202" y="220.9" font-size="4.7" font-weight="bold" text-anchor="middle" fill="#111" stroke="#111" stroke-width="0.28">2.18 x 1.88m</text>
<text x="271.5" y="253.7" font-size="4.7" font-weight="bold" text-anchor="middle" fill="#111" stroke="#111" stroke-width="0.28">Dining Room</text>
<text x="271.5" y="259.5" font-size="4.7" font-weight="bold" text-anchor="middle" fill="#111" stroke="#111" stroke-width="0.28">18'3 x 11'6</text>
<text x="271.5" y="265.3" font-size="4.7" font-weight="bold" text-anchor="middle" fill="#111" stroke="#111" stroke-width="0.28">5.56 x 3.51m</text>
<text x="303.5" y="314.7" font-size="4.7" font-weight="bold" text-anchor="middle" fill="#111" stroke="#111" stroke-width="0.28">C</text>
<text x="304" y="325.3" font-size="4.7" font-weight="bold" text-anchor="middle" fill="#111" stroke="#111" stroke-width="0.28">W</text>
<text x="261" y="327.7" font-size="4.7" font-weight="bold" text-anchor="middle" fill="#111" stroke="#111" stroke-width="0.28">C</text>
<text x="208" y="351.7" font-size="4.7" font-weight="bold" text-anchor="middle" fill="#111" stroke="#111" stroke-width="0.28">Hall</text>
<text x="208" y="357.5" font-size="4.7" font-weight="bold" text-anchor="middle" fill="#111" stroke="#111" stroke-width="0.28">8'9 x 7'9</text>
<text x="208" y="363.3" font-size="4.7" font-weight="bold" text-anchor="middle" fill="#111" stroke="#111" stroke-width="0.28">2.67 x 2.36m</text>
<text x="250.5" y="350.5" font-size="4.7" font-weight="bold" text-anchor="middle" fill="#111" stroke="#111" stroke-width="0.28">Bathroom</text>
<text x="294" y="345.1" font-size="4.7" font-weight="bold" text-anchor="middle" fill="#111" stroke="#111" stroke-width="0.28">Bedroom</text>
<text x="294" y="350.9" font-size="4.7" font-weight="bold" text-anchor="middle" fill="#111" stroke="#111" stroke-width="0.28">11'4 x 9'3</text>
<text x="294" y="356.7" font-size="4.7" font-weight="bold" text-anchor="middle" fill="#111" stroke="#111" stroke-width="0.28">3.45 x 2.82m</text>
<text x="325" y="354.7" font-size="4.7" font-weight="bold" text-anchor="middle" fill="#111" stroke="#111" stroke-width="0.28">W</text>
<text x="401" y="364.7" font-size="4.7" font-weight="bold" text-anchor="middle" fill="#111" stroke="#111" stroke-width="0.28">W</text>
<text x="363.5" y="257.7" font-size="4.7" font-weight="bold" text-anchor="middle" fill="#111" stroke="#111" stroke-width="0.28">Bedroom 1</text>
<text x="363.5" y="263.5" font-size="4.7" font-weight="bold" text-anchor="middle" fill="#111" stroke="#111" stroke-width="0.28">16'5 x 15'9</text>
<text x="363.5" y="269.3" font-size="4.7" font-weight="bold" text-anchor="middle" fill="#111" stroke="#111" stroke-width="0.28">5.00 x 4.80m</text>
<text x="384.2" y="322.5" font-size="4.7" font-weight="bold" text-anchor="middle" fill="#111" stroke="#111" stroke-width="0.28">En-suite</text>
<text x="362.5" y="355.3" font-size="4.7" font-weight="bold" text-anchor="middle" fill="#111" stroke="#111" stroke-width="0.28">Dressing Room</text>
<text x="362.5" y="361.1" font-size="4.7" font-weight="bold" text-anchor="middle" fill="#111" stroke="#111" stroke-width="0.28">16'5 x 13'1</text>
<text x="362.5" y="366.9" font-size="4.7" font-weight="bold" text-anchor="middle" fill="#111" stroke="#111" stroke-width="0.28">5.00 x 3.99m</text>
<text x="502.5" y="339.0" font-size="4.7" font-weight="bold" text-anchor="middle" fill="#111" stroke="#111" stroke-width="0.28">Bedroom</text>
<text x="502.5" y="344.8" font-size="4.7" font-weight="bold" text-anchor="middle" fill="#111" stroke="#111" stroke-width="0.28">27'7 x 16'4</text>
<text x="502.5" y="350.6" font-size="4.7" font-weight="bold" text-anchor="middle" fill="#111" stroke="#111" stroke-width="0.28">8.41 x 4.98m</text>
<text x="689.7" y="339.0" font-size="4.7" font-weight="bold" text-anchor="middle" fill="#111" stroke="#111" stroke-width="0.28">Bedroom</text>
<text x="689.7" y="344.8" font-size="4.7" font-weight="bold" text-anchor="middle" fill="#111" stroke="#111" stroke-width="0.28">27'7 x 16'4</text>
<text x="689.7" y="350.6" font-size="4.7" font-weight="bold" text-anchor="middle" fill="#111" stroke="#111" stroke-width="0.28">8.41 x 4.98m</text>
<text x="596" y="336.1" font-size="4.7" font-weight="bold" text-anchor="middle" fill="#111" stroke="#111" stroke-width="0.28">Landing</text>
<text x="557.8" y="371.7" font-size="4.7" font-weight="bold" text-anchor="middle" fill="#111" stroke="#111" stroke-width="0.28">C</text>
<text x="597.5" y="371.7" font-size="4.7" font-weight="bold" text-anchor="middle" fill="#111" stroke="#111" stroke-width="0.28">C</text>
<text x="4.5" y="406" font-size="6" font-weight="bold" fill="#111" stroke="#111" stroke-width="0.25">GROUND FLOOR</text>
<text x="426.5" y="406" font-size="6" font-weight="bold" fill="#111" stroke="#111" stroke-width="0.25">FIRST FLOOR</text>
<path d="M173 388 L173 374.5" stroke="#2e2e2e" stroke-width="0.4" fill="none" />
<path d="M173 373.3 l-0.9 1.8 l1.8 0 z" fill="#222"/>
<text x="384" y="130.5" font-size="8.9" font-weight="bold" text-anchor="middle" fill="#111">Wellington Drive</text>
<text x="384.2" y="137.6" font-size="4.7" font-weight="bold" text-anchor="middle" fill="#111">Approximate Gross Internal Area</text>
<text x="384.2" y="143.1" font-size="4.7" font-weight="bold" text-anchor="middle" fill="#111">3678 sq ft - 342 sq m</text>
<text x="384.4" y="420" font-size="4.36" font-weight="bold" text-anchor="middle" fill="#111" stroke="#111" stroke-width="0.1">SKETCH PLAN FOR ILLUSTRATIVE PURPOSES ONLY</text>
<text x="322.25" y="427.6" font-size="4.1" fill="#111" stroke="#111" stroke-width="0.08" textLength="124.5" lengthAdjust="spacingAndGlyphs">All measurements walls, doors, windows, fittings and appliances, their</text>
<text x="322.5" y="432.5" font-size="4.1" fill="#111" stroke="#111" stroke-width="0.08" textLength="124" lengthAdjust="spacingAndGlyphs">sizes and locations, are approximate only. They cannot be regarded as</text>
<text x="338.3" y="437.4" font-size="4.1" fill="#111" stroke="#111" stroke-width="0.08" textLength="92.4" lengthAdjust="spacingAndGlyphs">being a representation by the seller, nor their agent.</text>
<text x="351.4" y="447.3" font-size="4.1" fill="#111" stroke="#111" stroke-width="0.08" textLength="66.2" lengthAdjust="spacingAndGlyphs">Produced by Potterplans Ltd. 2025</text>
<g stroke="#2a2a2a" fill="none"><line x1="654" y1="184.8" x2="680" y2="184.8" stroke-width="0.8"/><line x1="666" y1="178.5" x2="666" y2="191" stroke-width="0.8"/><circle cx="666" cy="185" r="3.2" stroke-width="0.75" fill="#fff"/><rect x="664.2" y="183.2" width="3.6" height="3.6" stroke-width="0.45"/><line x1="663" y1="184.9" x2="669" y2="184.9" stroke-width="0.4"/><line x1="666" y1="182" x2="666" y2="188" stroke-width="0.4"/></g>
<path d="M643.7 184.8 L657 179.3 L654.2 184.8 L657 190 Z" fill="#111"/>
<text x="639.6" y="187" font-size="6.6" font-weight="bold" text-anchor="middle" fill="#111" stroke="#111" stroke-width="0.15">N</text>
<text x="684" y="187.1" font-size="6.6" font-weight="bold" text-anchor="middle" fill="#111" stroke="#111" stroke-width="0.15">S</text>
<text x="666" y="177" font-size="6.6" font-weight="bold" text-anchor="middle" fill="#111" stroke="#111" stroke-width="0.15">E</text>
<text x="666.2" y="197.6" font-size="6.6" font-weight="bold" text-anchor="middle" fill="#111" stroke="#111" stroke-width="0.15">W</text>
</svg>
</body></html>
